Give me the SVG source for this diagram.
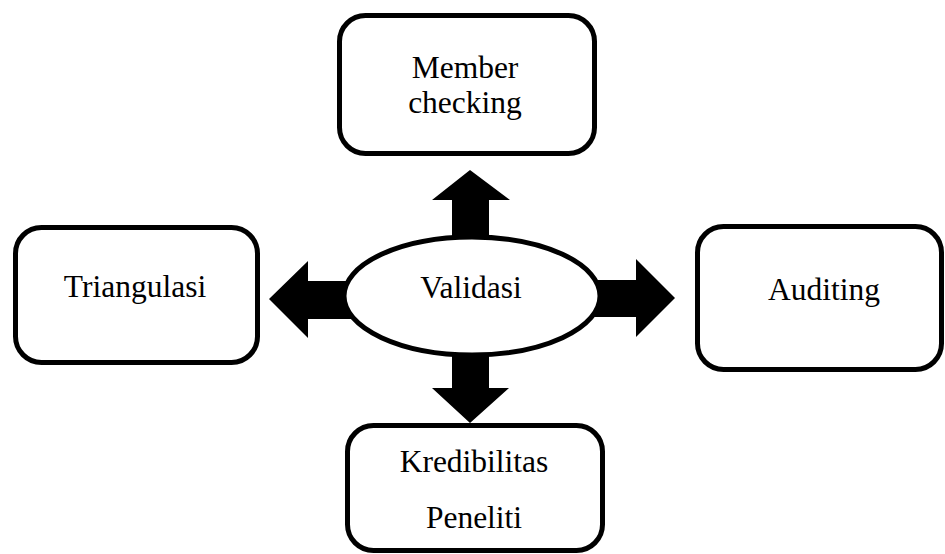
<svg xmlns="http://www.w3.org/2000/svg" width="945" height="554" viewBox="0 0 945 554">
<style>
.box{fill:#fff;stroke:#000;stroke-width:5}
.lbl{font-family:"Liberation Serif","Times New Roman",serif;font-size:31.5px;fill:#000;text-anchor:middle}
.arr{fill:#000;stroke:none}
</style>
<rect width="945" height="554" fill="#fff"/>
<g id="connectors">
<polygon class="arr" points="470,170 510,200 489,200 489,250 452,250 452,200 432,200"/>
<polygon class="arr" points="470,423 509,388 489,388 489,340 452,340 452,388 432,388"/>
<polygon class="arr" points="269,299 308,261 308,281 360,281 360,319 308,319 308,338"/>
<polygon class="arr" points="675,298 636,259 636,280 590,280 590,317 636,317 636,337"/>
</g>
<g id="node-validasi">
<ellipse class="box" cx="472" cy="296" rx="128" ry="59"/>
<text class="lbl" x="471" y="298">Validasi</text>
</g>
<g id="node-member">
<rect class="box" x="339.5" y="15.5" width="255" height="138" rx="26"/>
<text class="lbl" x="465" y="78">Member</text>
<text class="lbl" x="465" y="113">checking</text>
</g>
<g id="node-triangulasi">
<rect class="box" x="15.5" y="227.5" width="242" height="135" rx="26"/>
<text class="lbl" x="135" y="297">Triangulasi</text>
</g>
<g id="node-auditing">
<rect class="box" x="697.5" y="226.5" width="244" height="143" rx="26"/>
<text class="lbl" x="824" y="300">Auditing</text>
</g>
<g id="node-kredibilitas">
<rect class="box" x="347.5" y="425.5" width="255" height="125" rx="26"/>
<text class="lbl" x="474" y="472">Kredibilitas</text>
<text class="lbl" x="474" y="528">Peneliti</text>
</g>
</svg>
